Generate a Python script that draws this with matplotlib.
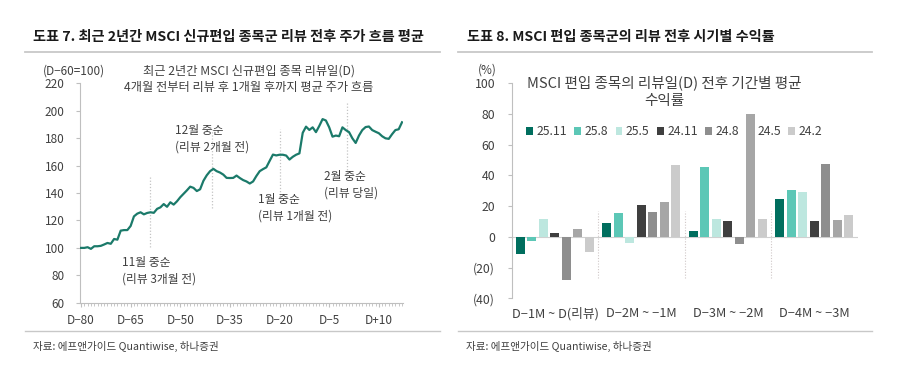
import numpy as np
import matplotlib
matplotlib.use("Agg")
from matplotlib import pyplot as plt
from matplotlib.lines import Line2D

plt.rcParams['font.family'] = ['Noto Sans CJK KR', 'DejaVu Sans']
plt.rcParams['axes.unicode_minus'] = True

# ---- left chart data: average price path, D-80 .. D+17 (D-60=100)
days = list(range(-80, 18))
price = [100.0, 100.0, 100.5, 99.3, 101.2, 101.2, 101.5, 102.5, 103.6, 103.0,
         106.5, 106.0, 112.6, 113.0, 113.0, 116.0, 123.0, 125.0, 126.0, 124.5,
         125.5, 126.0, 125.6, 128.5, 129.6, 132.0, 130.0, 133.3, 131.6, 134.0,
         137.0, 139.5, 142.0, 144.7, 143.8, 141.5, 142.8, 149.0, 153.0, 156.0,
         157.7, 156.0, 155.0, 153.5, 151.1, 151.0, 151.1, 152.8, 151.0, 149.5,
         148.5, 147.0, 148.5, 152.5, 156.0, 157.5, 158.8, 163.5, 168.1, 167.5,
         168.0, 168.0, 167.4, 164.5, 166.5, 168.0, 169.0, 184.0, 188.5, 186.1,
         188.0, 184.5, 189.0, 194.0, 193.0, 188.0, 181.2, 182.0, 181.5, 188.0,
         186.0, 184.5, 180.0, 176.6, 182.0, 186.0, 188.2, 188.6, 186.0, 184.8,
         183.7, 181.5, 180.0, 179.6, 183.0, 186.0, 186.6, 191.7]
xtick_days = [-80, -65, -50, -35, -20, -5, 10]
xtick_labels = ['D\u221280', 'D\u221265', 'D\u221250', 'D\u221235', 'D\u221220', 'D\u22125', 'D+10']

annot_days = [-59, -40.5, -20, 0.5]
annot_spans = [(101, 151.5), (129, 187), (136.5, 187), (155, 206)]
annot_texts = ['11월 중순\n(리뷰 3개월 전)', '12월 중순\n(리뷰 2개월 전)',
               '1월 중순\n(리뷰 1개월 전)', '2월 중순\n(리뷰 당일)']
annot_pos = [(-67.5, 83), (-51.5, 180), (-26.5, 129), (-6.5, 146)]

# ---- right chart data: average return by period (%)
periods = ['D\u22121M ~ D(리뷰)', 'D\u22122M ~ \u22121M', 'D\u22123M ~ \u22122M', 'D\u22124M ~ \u22123M']
series = ['25.11', '25.8', '25.5', '24.11', '24.8', '24.5', '24.2']
r_2511 = [-11.0, 9.0, 3.5, 24.5]
r_258 = [-3.0, 15.5, 45.5, 30.5]
r_255 = [11.5, -4.0, 11.5, 29.0]
r_2411 = [2.5, 21.0, 10.5, 10.5]
r_248 = [-28.0, 16.0, -4.5, 47.5]
r_245 = [5.0, 23.0, 80.0, 11.0]
r_242 = [-10.0, 47.0, 11.5, 14.0]
returns = [r_2511, r_258, r_255, r_2411, r_248, r_245, r_242]
colors = ['#006e5e', '#5cc7b6', '#bde7df', '#3f3f3f', '#8e8e8e', '#a6a6a6', '#cbcbcb']

txt = '#404040'
axis_c = '#bfbfbf'

fig = plt.figure(figsize=(9, 3.85), dpi=100)

def fx(px):
    return px / 900

def fy(py):
    return 1 - py / 385

# headers and rules
fig.text(fx(33), fy(37), '도표 7. 최근 2년간 MSCI 신규편입 종목군 리뷰 전후 주가 흐름 평균',
         fontsize=10.2, fontweight='bold', color='#1a1a1a', va='center', ha='left')
fig.text(fx(467), fy(37), '도표 8. MSCI 편입 종목군의 리뷰 전후 시기별 수익률',
         fontsize=10.2, fontweight='bold', color='#1a1a1a', va='center', ha='left')
for x0, x1 in [(25, 440), (458, 872)]:
    fig.add_artist(Line2D([fx(x0), fx(x1)], [fy(52), fy(52)], color='#c8c8c8', lw=1.3))
    fig.add_artist(Line2D([fx(x0), fx(x1)], [fy(331), fy(331)], color='#c8c8c8', lw=1.0))
fig.text(fx(33), fy(346), '자료: 에프앤가이드 Quantiwise, 하나증권', fontsize=7.6, color=txt, va='center')
fig.text(fx(466), fy(346), '자료: 에프앤가이드 Quantiwise, 하나증권', fontsize=7.6, color=txt, va='center')

# ---- left chart
ax1 = fig.add_axes([fx(80), fy(302.7), fx(403 - 80), (302.7 - 83.5) / 385])
ax1.plot(days, price, color='#1b7a6a', lw=1.6, zorder=3)
for d, (v0, v1) in zip(annot_days, annot_spans):
    ax1.plot([d, d], [v0, v1], ls=(0, (1, 1.5)), color='#c4c4c4', lw=0.9, zorder=2)
for (x, y), t in zip(annot_pos, annot_texts):
    ax1.text(x, y, t, fontsize=8.5, color=txt, ha='left', va='center', linespacing=1.35)
ax1.set_xlim(-80.3, 17.3)
ax1.set_ylim(60, 220)
ax1.set_yticks(range(60, 221, 20))
ax1.set_xticks(xtick_days)
ax1.set_xticklabels(xtick_labels)
ax1.set_xticks(days, minor=True)
for s in ['top', 'right']:
    ax1.spines[s].set_visible(False)
for s in ['left', 'bottom']:
    ax1.spines[s].set_color(axis_c)
    ax1.spines[s].set_linewidth(0.8)
ax1.tick_params(axis='both', colors=axis_c, labelcolor=txt, labelsize=8.5, length=3, width=0.8)
ax1.tick_params(axis='x', which='minor', colors=axis_c, length=2, width=0.6)
ax1.tick_params(axis='y', pad=8)
ax1.tick_params(axis='x', pad=5)
fig.text(fx(43), fy(71.5), '(D\u221260=100)', fontsize=8.5, color=txt, va='center', ha='left')
fig.text(fx(249), fy(71.5), '최근 2년간 MSCI 신규편입 종목 리뷰일(D)', fontsize=8.8, color=txt,
         ha='center', va='center')
fig.text(fx(249), fy(88), '4개월 전부터 리뷰 후 1개월 후까지 평균 주가 흐름', fontsize=8.8, color=txt,
         ha='center', va='center')

# ---- right chart
ax2 = fig.add_axes([fx(511.7), fy(298.3), fx(857.7 - 511.7), (298.3 - 83.2) / 385])
xc = np.arange(len(periods))
pitch = 0.133
width = 0.104
for i, (name, vals, c) in enumerate(zip(series, returns, colors)):
    ax2.bar(xc + (i - 3) * pitch, vals, width=width, color=c, label=name, zorder=3)
ax2.axhline(0, color='#d0d0d0', lw=0.8, zorder=2)
for b in [0.5, 1.5, 2.5]:
    ax2.plot([b, b], [-27, 17], ls=(0, (1, 1.5)), color='#d0c8c8', lw=0.8, zorder=1)
ax2.set_xlim(-0.5, 3.5)
ax2.set_ylim(-40, 100)
yt = list(range(-40, 101, 20))
ax2.set_yticks(yt)
ax2.set_yticklabels(['(%d)' % -v if v < 0 else '%d' % v for v in yt])
ax2.set_xticks(xc)
ax2.set_xticklabels(periods)
for s in ['top', 'right', 'bottom']:
    ax2.spines[s].set_visible(False)
ax2.spines['left'].set_color(axis_c)
ax2.spines['left'].set_linewidth(0.8)
ax2.tick_params(axis='y', colors=axis_c, labelcolor=txt, labelsize=8.8, length=3, width=0.8, pad=9)
ax2.tick_params(axis='x', length=0, labelcolor=txt, labelsize=9.2, pad=6)
leg = ax2.legend(ncol=7, loc='center', bbox_to_anchor=((674 - 511.7) / 346, (100 - (131.7 - 83.2) / 1.535 + 40) / 140),
                 frameon=False, fontsize=8.8, handlelength=0.55, handleheight=0.55,
                 handletextpad=0.3, columnspacing=0.6, borderaxespad=0, labelcolor=txt)
leg.set_zorder(1)
fig.text(fx(478), fy(70.5), '(%)', fontsize=8.5, color=txt, va='center', ha='left')
fig.text(fx(664), fy(82.5), 'MSCI 편입 종목의 리뷰일(D) 전후 기간별 평균', fontsize=10.5, color=txt,
         ha='center', va='center')
fig.text(fx(664), fy(101.5), '수익률', fontsize=10.5, color=txt, ha='center', va='center')

fig.savefig('out.png', dpi=100)
